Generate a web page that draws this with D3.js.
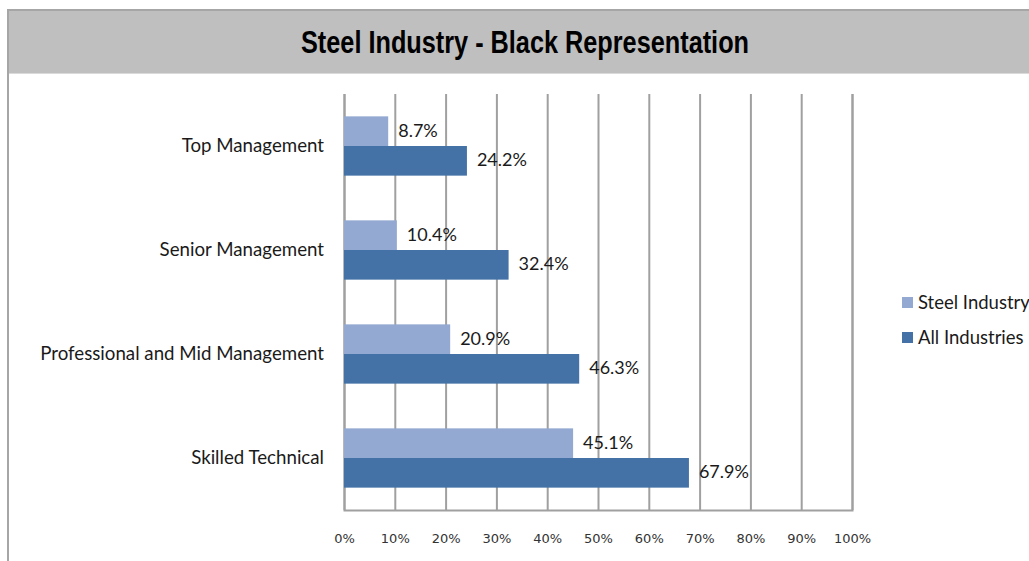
<!DOCTYPE html>
<html>
<head>
<meta charset="utf-8">
<script src="https://cdn.jsdelivr.net/npm/d3@7/dist/d3.min.js"></script>
<style>
  html, body { margin: 0; padding: 0; background: #fff; }
  svg { display: block; }
</style>
</head>
<body>
<svg id="chart" width="1029" height="561"></svg>
<script>
// DATA
const categories = ['Top Management', 'Senior Management', 'Professional and Mid Management', 'Skilled Technical'];
const seriesNames = ['Steel Industry', 'All Industries'];
const steelValues = [8.7, 10.4, 20.9, 45.1];
const allValues = [24.2, 32.4, 46.3, 67.9];
const tickValues = [0, 10, 20, 30, 40, 50, 60, 70, 80, 90, 100];
const colors = ['#94a9d1', '#4472a7'];

const data = categories.map((c, i) => ({ category: c, values: [steelValues[i], allValues[i]] }));

// SETUP
let svg = d3.select('svg'),
  margin = { top: 94, left: 344, right: 177, bottom: 51 },
  width = 1029 - margin.left - margin.right,
  height = 561 - margin.top - margin.bottom;

const x = d3.scaleLinear().domain([0, 100]).range([0, width]);
const y = d3.scaleBand().domain(categories).range([0, height]).paddingInner(0.43).paddingOuter(0.215);
const ySub = d3.scaleBand().domain(seriesNames).range([0, y.bandwidth()]);

// FRAME AND TITLE
svg.append('rect').attr('x', 8).attr('y', 10).attr('width', 1021).attr('height', 63).attr('fill', '#bfbfbf');
svg.append('line').attr('x1', 8).attr('x2', 1029).attr('y1', 10).attr('y2', 10).attr('stroke', '#a6a6a6').attr('stroke-width', 2);
svg.append('line').attr('x1', 8).attr('x2', 1029).attr('y1', 73.5).attr('y2', 73.5).attr('stroke', '#dadada').attr('stroke-width', 1);
svg.append('line').attr('x1', 8).attr('x2', 8).attr('y1', 9).attr('y2', 561).attr('stroke', '#a6a6a6').attr('stroke-width', 2);

// narrow bold title: no condensed font installed, so squeeze horizontally
svg.append('text')
  .attr('transform', 'translate(525,53) scale(0.79,1)')
  .attr('text-anchor', 'middle')
  .style('font-family', '"Liberation Sans", Arial, sans-serif')
  .style('font-weight', 'bold')
  .style('font-size', '32px')
  .attr('fill', '#000')
  .text('Steel Industry - Black Representation');

let g = svg.append('g').attr('transform', 'translate(' + margin.left + ',' + margin.top + ')');

// GRIDLINES
g.append('g')
  .attr('class', 'axis axis--x')
  .attr('transform', 'translate(0,' + height + ')')
  .call(d3.axisBottom(x).tickValues(tickValues).tickSize(-height).tickFormat(d => d + '%'))
  .call(a => a.select('.domain').attr('stroke', '#a0a0a0').attr('stroke-width', 2))
  .call(a => a.selectAll('.tick line').attr('stroke', '#a0a0a0').attr('stroke-width', 2))
  .call(a => a.selectAll('.tick text')
    .attr('y', 24)
    .style('font-family', '"DejaVu Sans", Verdana, sans-serif')
    .style('font-size', '13px')
    .attr('fill', '#333'));

// CATEGORY LABELS
g.append('g')
  .selectAll('text')
  .data(categories)
  .enter()
  .append('text')
  .attr('x', -20)
  .attr('y', d => y(d) + y.bandwidth() / 2)
  .attr('dy', '0.3em')
  .attr('text-anchor', 'end')
  .style('font-family', 'Lato, sans-serif')
  .style('font-size', '18.7px')
  .attr('fill', '#1a1a1a')
  .text(d => d);

// BARS
let groups = g.selectAll('.group')
  .data(data)
  .enter()
  .append('g')
  .attr('class', 'group')
  .attr('transform', d => 'translate(0,' + y(d.category) + ')');

groups.selectAll('rect')
  .data(d => d.values.map((v, i) => ({ name: seriesNames[i], value: v, i: i })))
  .enter()
  .append('rect')
  .attr('x', 0)
  .attr('y', d => ySub(d.name))
  .attr('width', d => x(d.value))
  .attr('height', ySub.bandwidth())
  .attr('fill', d => colors[d.i]);

groups.selectAll('.value')
  .data(d => d.values.map((v, i) => ({ name: seriesNames[i], value: v })))
  .enter()
  .append('text')
  .attr('class', 'value')
  .attr('x', d => x(d.value) + 10)
  .attr('y', d => ySub(d.name) + ySub.bandwidth() / 2)
  .attr('dy', '0.3em')
  .style('font-family', 'Lato, sans-serif')
  .style('font-size', '18px')
  .attr('fill', '#1a1a1a')
  .text(d => d.value.toFixed(1) + '%');

// LEGEND
let legend = svg.append('g').attr('transform', 'translate(902,297)');
seriesNames.forEach((s, i) => {
  legend.append('rect').attr('x', 0).attr('y', i * 35).attr('width', 11).attr('height', 11).attr('fill', colors[i]);
  legend.append('text')
    .attr('x', 16).attr('y', i * 35 + 6)
    .attr('dy', '0.33em')
    .style('font-family', 'Lato, sans-serif')
    .style('font-size', '18.5px')
    .attr('fill', '#1a1a1a')
    .text(s);
});
</script>
</body>
</html>
